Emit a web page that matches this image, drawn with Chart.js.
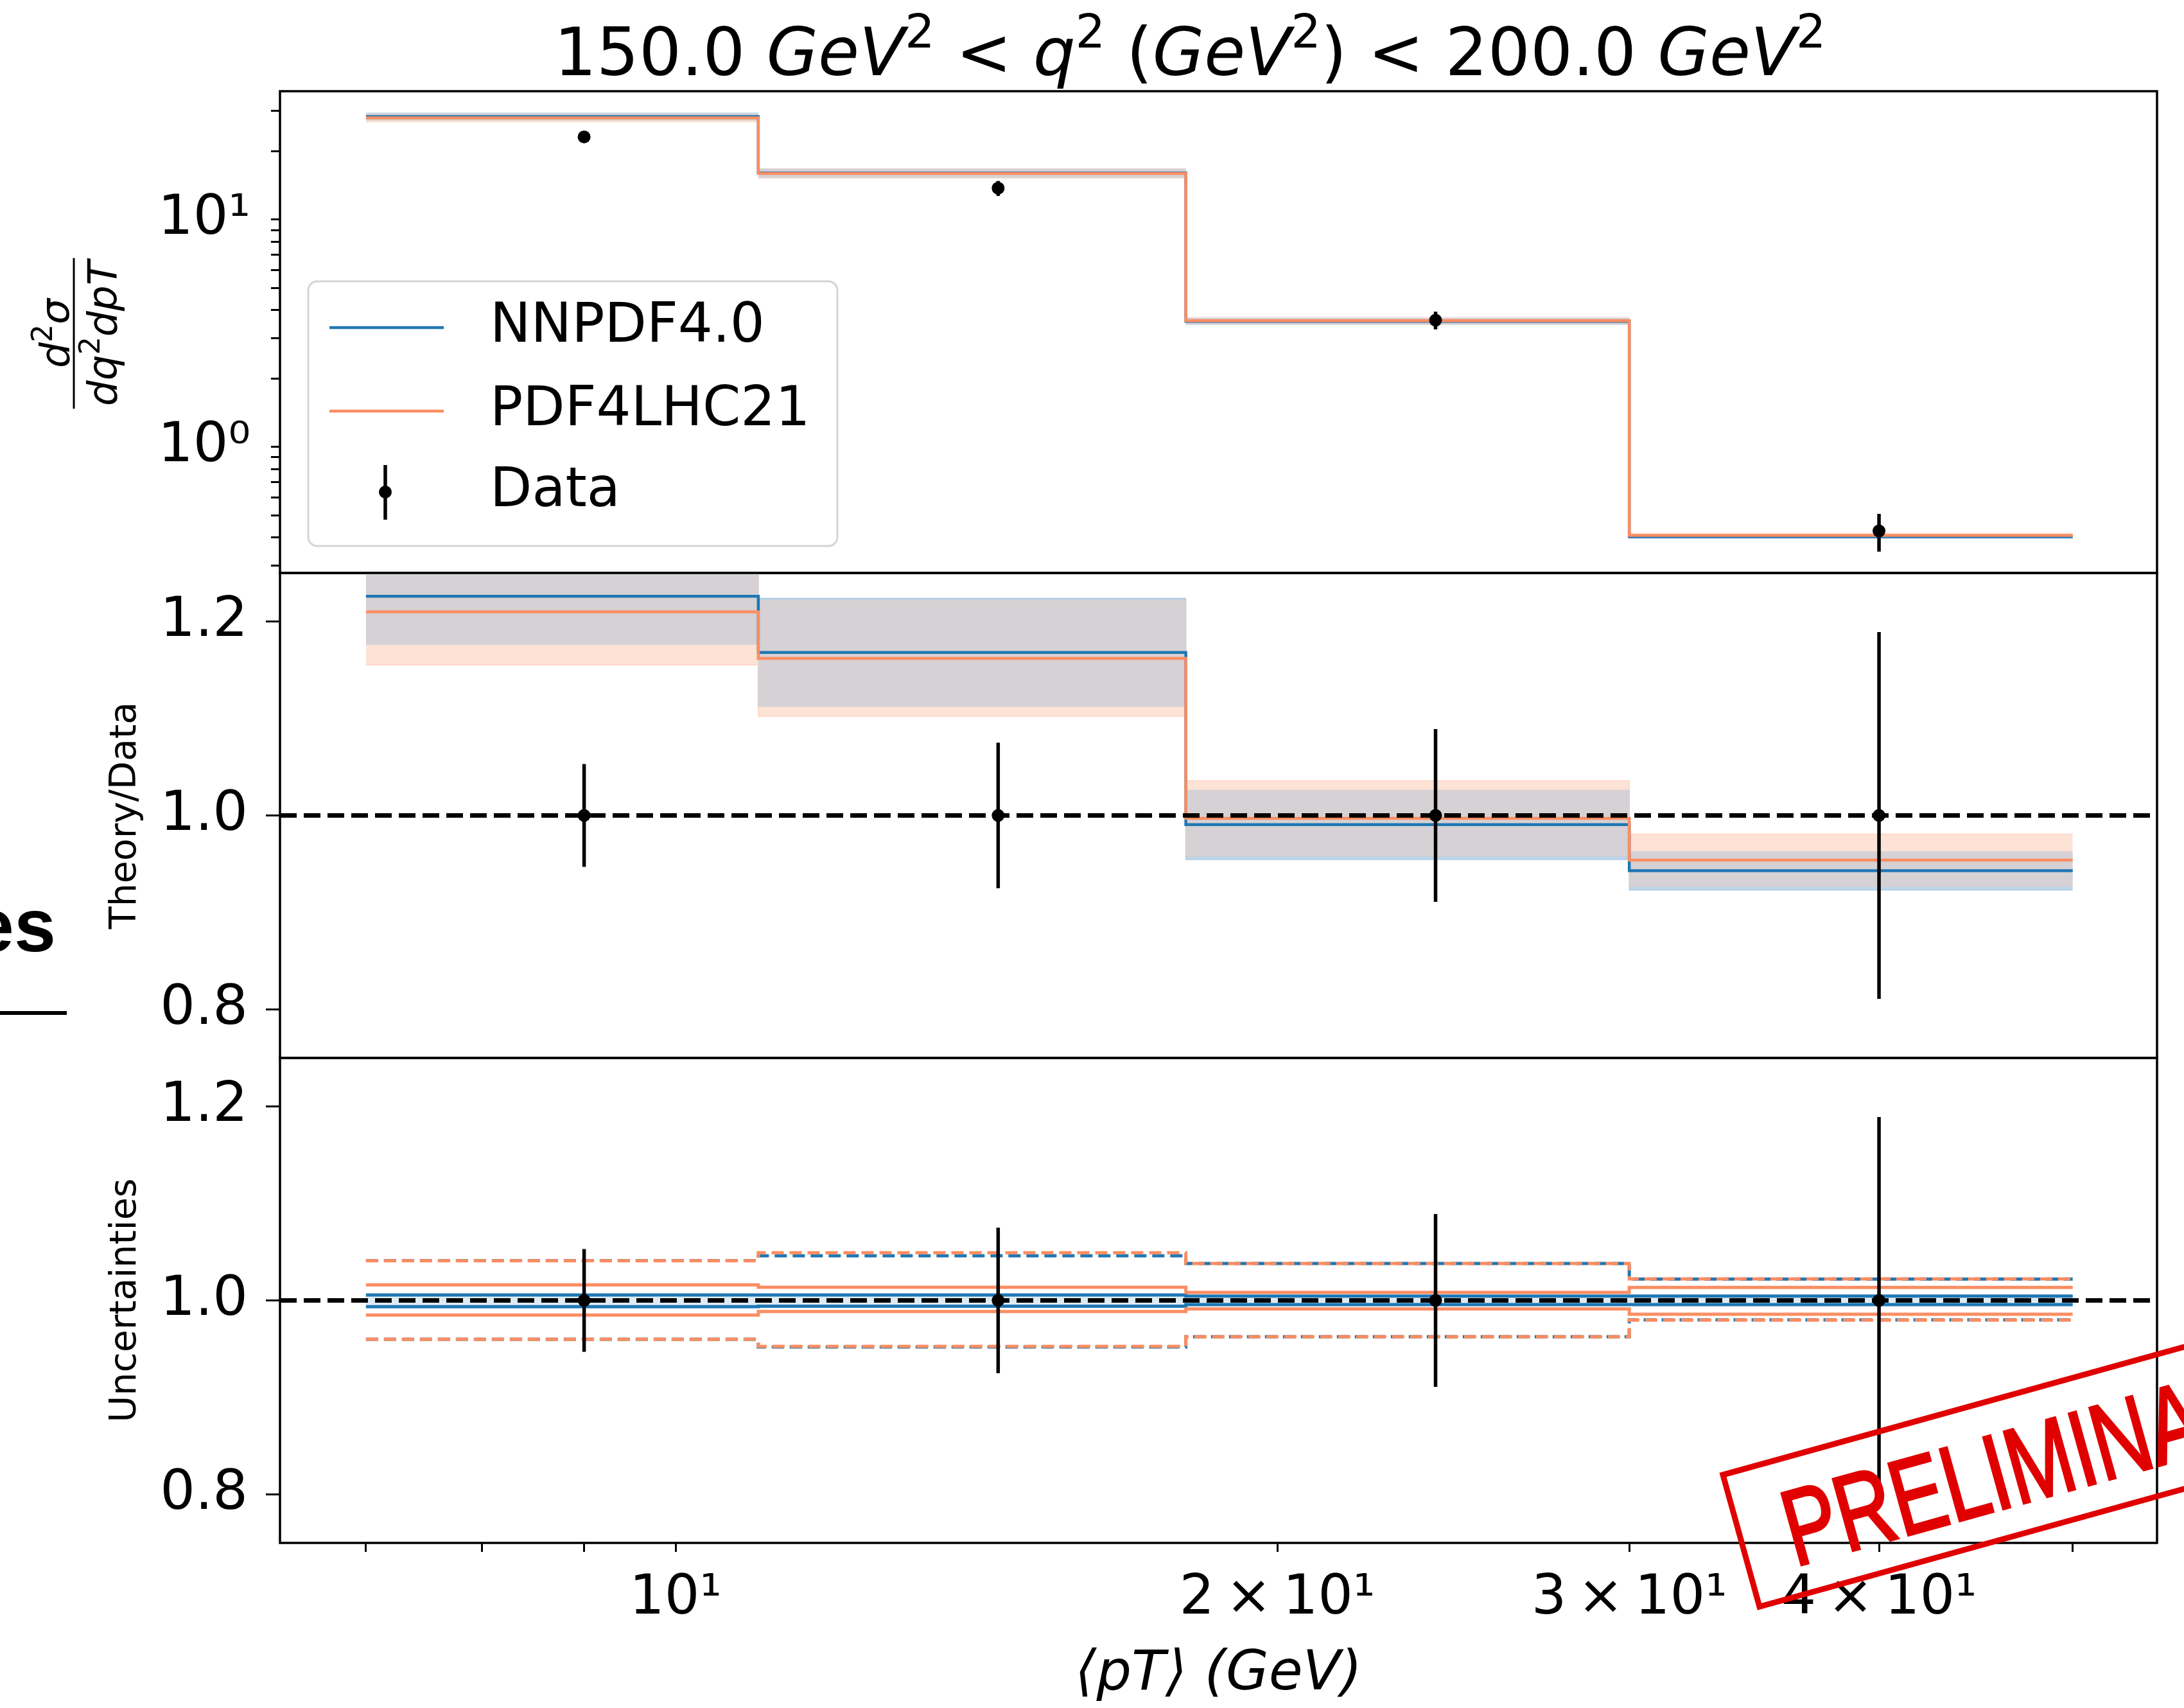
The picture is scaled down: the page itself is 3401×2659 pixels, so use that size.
<!DOCTYPE html>
<html>
<head>
<meta charset="utf-8">
<script src="https://cdn.jsdelivr.net/npm/chart.js@4.4.0/dist/chart.umd.min.js"></script>
<style>
  html, body { margin: 0; padding: 0; background: #fff; overflow: hidden; }
  #page { position: relative; width: 3401px; height: 2659px; overflow: hidden; background: #fff; }
  canvas { position: absolute; left: 0; }
  #frag { position: absolute; right: calc(3401px - 87px); top: 1382px; font: bold 117px 'Liberation Sans', Arial, sans-serif; line-height: 117px; white-space: nowrap; color: #000; }
  #fragLine { position: absolute; left: 0; top: 1574px; width: 104px; height: 6px; background: #000; }
</style>
</head>
<body>
<div id="page">
  <canvas id="cTop" width="3401" height="910" style="top:0;width:3401px;height:910px"></canvas>
  <canvas id="cRatio" width="3401" height="795" style="top:872px;width:3401px;height:795px"></canvas>
  <canvas id="cUnc" width="3401" height="1032" style="top:1627px;width:3401px;height:1032px"></canvas>
  <div id="frag">es</div>
  <div id="fragLine"></div>
</div>
<script>
// pT bins (GeV)
const binEdges = [7, 11, 18, 30, 50];
const ptCenters = [9, 14.5, 24, 40];
const xRange = [6.34, 55.1];
const xTicks = [7, 8, 9, 10, 20, 30, 40, 50];
const xTickLabels = ['', '', '', '10¹', '2\u2009×\u200910¹', '3\u2009×\u200910¹', '4\u2009×\u200910¹', ''];

// top panel: d2sigma/dq2dpT
const dataXsec = [23.1, 13.75, 3.61, 0.427];
const dataRelErr = [0.053, 0.075, 0.089, 0.189];
const nnpdfXsec = [28.4, 16.05, 3.57, 0.403];
const pdf4lhcXsec = [28.0, 15.95, 3.59, 0.408];
const yTopRange = [0.279, 36.7];
const yTopTicks = [0.3, 0.4, 0.5, 0.6, 0.7, 0.8, 0.9, 1, 2, 3, 4, 5, 6, 7, 8, 9, 10, 20, 30];
const yTopTickLabels = yTopTicks.map(v => v === 1 ? '10⁰' : v === 10 ? '10¹' : '');

// middle panel: theory / data
const nnpdfRatio = [1.226, 1.168, 0.9905, 0.943];
const nnpdfRatioErr = [0.050, 0.056, 0.036, 0.020];
const pdf4lhcRatio = [1.210, 1.162, 0.997, 0.954];
const pdf4lhcRatioErr = [0.055, 0.060, 0.039, 0.027];

// bottom panel: uncertainties (solid = PDF, dashed = scale)
const nnpdfPdfUp = [1.0056, 1.0056, 1.0045, 1.0045];
const nnpdfPdfDn = [0.9935, 0.9940, 0.9957, 0.9957];
const pdf4lhcPdfUp = [1.016, 1.0135, 1.0083, 1.0134];
const pdf4lhcPdfDn = [0.985, 0.9886, 0.9913, 0.9858];
const nnpdfScaleUp = [1.041, 1.046, 1.038, 1.022];
const nnpdfScaleDn = [0.960, 0.952, 0.9626, 0.980];
const pdf4lhcScaleUp = [1.0409, 1.0491, 1.038, 1.0222];
const pdf4lhcScaleDn = [0.960, 0.9527, 0.9626, 0.9798];

const ratioRange = [0.75, 1.25];
const ratioTicks = [0.8, 1.0, 1.2];
const ratioTickLabels = ['0.8', '1.0', '1.2'];

const BLUE = '#1f77b4';
const ORANGE = '#fc8d62';
const BLUE_BAND = 'rgb(190,216,235)';
const ORANGE_BAND = 'rgb(253,226,214)';
const GREY_BAND = 'rgb(214,209,212)';
const FONT = "'DejaVu Sans', sans-serif";

Chart.defaults.font.family = FONT;
Chart.defaults.color = '#000';

// helpers
const step = vals => binEdges.map((x, i) => ({ x, y: vals[Math.min(i, vals.length - 1)] }));
const errBars = (lo, hi) => ptCenters.flatMap((x, i) => [{ x, y: lo[i] }, { x, y: hi[i] }, { x, y: null }]);
const ones = ptCenters.map(() => 1);

function lineDs(vals, color, width, extra) {
  return Object.assign({ data: step(vals), borderColor: color, borderWidth: width, pointRadius: 0,
    fill: false, stepped: 'before', tension: 0 }, extra || {});
}
function bandDs(up, dn, color, edge) {
  return [
    { data: step(up), borderColor: edge || 'rgba(0,0,0,0)', borderWidth: 2, pointRadius: 0,
      stepped: 'before', fill: '+1', backgroundColor: color, clip: 0 },
    { data: step(dn), borderColor: edge || 'rgba(0,0,0,0)', borderWidth: 2, pointRadius: 0,
      stepped: 'before', fill: false, clip: 0 }
  ];
}
function errDs(lo, hi) {
  return { data: errBars(lo, hi), borderColor: '#000', borderWidth: 5.5, pointRadius: 0, spanGaps: false, tension: 0 };
}
function dotDs(vals) {
  return { data: ptCenters.map((x, i) => ({ x, y: vals[i] })), showLine: false, pointRadius: 10,
    pointBackgroundColor: '#000', pointBorderWidth: 0, borderColor: '#000' };
}
function unityDs() {
  return { data: [{ x: xRange[0], y: 1 }, { x: xRange[1], y: 1 }], borderColor: '#000', borderWidth: 7,
    borderDash: [26, 11], pointRadius: 0, tension: 0 };
}
// first in list is drawn first (underneath)
function ordered(list) {
  return list.map((d, i) => Object.assign(d, { order: list.length - i }));
}

function xScale(show) {
  return {
    type: 'logarithmic', min: xRange[0], max: xRange[1], display: show,
    afterBuildTicks: s => { s.ticks = xTicks.map(v => ({ value: v })); },
    afterFit: s => { s.height = show ? 257 : 0; s.paddingLeft = 0; s.paddingRight = 0; },
    ticks: { autoSkip: false, maxRotation: 0, minRotation: 0, padding: 22, color: '#000',
      font: { size: 86 }, callback: (v, i) => xTickLabels[i] },
    grid: { drawOnChartArea: false, tickLength: 14, tickWidth: 3, tickColor: '#000' },
    border: { display: false },
    title: { display: show, text: '⟨pT⟩ (GeV)', color: '#000', font: { size: 86, style: 'italic' },
      padding: { top: 0, bottom: 0 } }
  };
}
function yScale(type, range, ticks, labels, tickLen, pad, title) {
  return {
    type, min: range[0], max: range[1],
    afterBuildTicks: s => { s.ticks = ticks.map(v => ({ value: v })); },
    afterFit: s => { s.width = 436; s.paddingTop = 0; s.paddingBottom = 0; },
    ticks: { autoSkip: false, padding: pad, color: '#000', font: { size: 86 }, callback: (v, i) => labels[i] },
    grid: { drawOnChartArea: false, tickLength: tickLen, tickWidth: 3, tickColor: '#000' },
    border: { display: false },
    title: title ? { display: true, text: title, color: '#000', font: { size: 57 }, padding: { top: 162, bottom: 0 } }
                 : { display: false }
  };
}
function options(y, showX, padding) {
  return {
    responsive: false, animation: false, devicePixelRatio: 1, events: [],
    layout: { padding },
    plugins: { legend: { display: false }, tooltip: { enabled: false }, title: { display: false } },
    scales: { x: xScale(showX), y }
  };
}

const framePlugin = {
  id: 'frame',
  afterDatasetsDraw(chart) {
    const { ctx, chartArea: a } = chart;
    ctx.save();
    ctx.strokeStyle = '#000';
    ctx.lineWidth = 3.5;
    ctx.strokeRect(a.left, a.top, a.right - a.left, a.bottom - a.top);
    ctx.restore();
  }
};

// text with italic / superscript pieces
function drawParts(ctx, parts, x, y, size, align) {
  const fontOf = p => (p.it ? 'italic ' : '') + (p.sup ? size * 0.7 : size) + 'px ' + FONT;
  let w = 0;
  parts.forEach(p => { ctx.font = fontOf(p); w += ctx.measureText(p.t).width; });
  let cx = align === 'center' ? x - w / 2 : x;
  ctx.textBaseline = 'alphabetic';
  ctx.textAlign = 'left';
  parts.forEach(p => {
    ctx.font = fontOf(p);
    ctx.fillText(p.t, cx, p.sup ? y - size * 0.41 : y);
    cx += ctx.measureText(p.t).width;
  });
  return w;
}
function partsWidth(ctx, parts, size) {
  let w = 0;
  parts.forEach(p => { ctx.font = (p.it ? 'italic ' : '') + (p.sup ? size * 0.7 : size) + 'px ' + FONT; w += ctx.measureText(p.t).width; });
  return w;
}

const topDecor = {
  id: 'topDecor',
  afterDraw(chart) {
    const ctx = chart.ctx;
    ctx.save();
    ctx.fillStyle = '#000';
    // title
    drawParts(ctx, [
      { t: '150.0 ' }, { t: 'GeV', it: 1 }, { t: '2', sup: 1 }, { t: ' < ' }, { t: 'q', it: 1 }, { t: '2', sup: 1 },
      { t: ' (' }, { t: 'GeV', it: 1 }, { t: '2', sup: 1 }, { t: ') < 200.0 ' }, { t: 'GeV', it: 1 }, { t: '2', sup: 1 }
    ], 1853, 117, 104, 'center');

    // y label as a fraction, rotated
    const fs = 63;
    const num = [{ t: 'd', it: 1 }, { t: '2', sup: 1 }, { t: 'σ', it: 1 }];
    const den = [{ t: 'dq', it: 1 }, { t: '2', sup: 1 }, { t: 'dpT', it: 1 }];
    ctx.translate(115, 519);
    ctx.rotate(-Math.PI / 2);
    const wn = partsWidth(ctx, num, fs), wd = partsWidth(ctx, den, fs);
    const wb = Math.max(wn, wd) + 8;
    drawParts(ctx, num, 0, -8, fs, 'center');
    drawParts(ctx, den, 0, 66, fs, 'center');
    ctx.fillRect(-wb / 2, -1.5, wb, 3);
    ctx.restore();

    // legend
    ctx.save();
    ctx.beginPath();
    ctx.roundRect(480, 438, 824, 412, 14);
    ctx.fillStyle = 'rgba(255,255,255,0.8)';
    ctx.fill();
    ctx.strokeStyle = '#d4d4d4';
    ctx.lineWidth = 3;
    ctx.stroke();
    ctx.lineWidth = 4.5;
    ctx.strokeStyle = BLUE;
    ctx.beginPath(); ctx.moveTo(513, 510); ctx.lineTo(691, 510); ctx.stroke();
    ctx.strokeStyle = ORANGE;
    ctx.beginPath(); ctx.moveTo(513, 640); ctx.lineTo(691, 640); ctx.stroke();
    ctx.strokeStyle = '#000';
    ctx.lineWidth = 5.5;
    ctx.beginPath(); ctx.moveTo(600, 724); ctx.lineTo(600, 809); ctx.stroke();
    ctx.fillStyle = '#000';
    ctx.beginPath(); ctx.arc(600, 766, 10, 0, Math.PI * 2); ctx.fill();
    ctx.font = '85px ' + FONT;
    ctx.textBaseline = 'middle';
    ctx.textAlign = 'left';
    ctx.fillText('NNPDF4.0', 763, 510);
    ctx.fillText('PDF4LHC21', 763, 640);
    ctx.fillText('Data', 763, 766);
    ctx.restore();
  }
};

const stampPlugin = {
  id: 'stamp',
  afterDraw(chart) {
    const ctx = chart.ctx;
    ctx.save();
    ctx.translate(2683, 2296 - 1627);
    ctx.rotate(-15.5 * Math.PI / 180);
    ctx.strokeStyle = '#e00000';
    ctx.lineWidth = 9;
    ctx.strokeRect(0, 0, 900, 213);
    ctx.fillStyle = '#e00000';
    ctx.scale(0.74, 1);
    ctx.font = "168px 'Liberation Sans', Arial, sans-serif";
    ctx.textBaseline = 'alphabetic';
    ctx.textAlign = 'left';
    ctx.lineWidth = 4;
    ctx.fillText('PRELIMINARY', 70 / 0.74, 168);
    ctx.strokeText('PRELIMINARY', 70 / 0.74, 168);
    ctx.restore();
  }
};

// derived band edges
const mul = (a, f) => a.map((v, i) => v * f(i));
const nnTopUp = mul(nnpdfXsec, i => 1 + nnpdfRatioErr[i] / nnpdfRatio[i]);
const nnTopDn = mul(nnpdfXsec, i => 1 - nnpdfRatioErr[i] / nnpdfRatio[i]);
const pdTopUp = mul(pdf4lhcXsec, i => 1 + pdf4lhcRatioErr[i] / pdf4lhcRatio[i]);
const pdTopDn = mul(pdf4lhcXsec, i => 1 - pdf4lhcRatioErr[i] / pdf4lhcRatio[i]);
const nnRUp = nnpdfRatio.map((v, i) => v + nnpdfRatioErr[i]);
const nnRDn = nnpdfRatio.map((v, i) => v - nnpdfRatioErr[i]);
const pdRUp = pdf4lhcRatio.map((v, i) => v + pdf4lhcRatioErr[i]);
const pdRDn = pdf4lhcRatio.map((v, i) => v - pdf4lhcRatioErr[i]);
const minOf = (a, b) => a.map((v, i) => Math.min(v, b[i]));
const maxOf = (a, b) => a.map((v, i) => Math.max(v, b[i]));

// top panel
new Chart(document.getElementById('cTop'), {
  type: 'line',
  data: { datasets: ordered([
    ...bandDs(nnTopUp, nnTopDn, BLUE_BAND),
    ...bandDs(pdTopUp, pdTopDn, ORANGE_BAND),
    ...bandDs(minOf(nnTopUp, pdTopUp), maxOf(nnTopDn, pdTopDn), GREY_BAND),
    lineDs(nnpdfXsec, BLUE, 4.5),
    lineDs(pdf4lhcXsec, ORANGE, 4.5),
    errDs(mul(dataXsec, i => 1 - dataRelErr[i]), mul(dataXsec, i => 1 + dataRelErr[i])),
    dotDs(dataXsec)
  ]) },
  options: options(yScale('logarithmic', yTopRange, yTopTicks, yTopTickLabels, 14, 32, null), false,
    { top: 142, bottom: 18, left: 0, right: 42 }),
  plugins: [framePlugin, topDecor]
});

// theory / data panel
new Chart(document.getElementById('cRatio'), {
  type: 'line',
  data: { datasets: ordered([
    ...bandDs(nnRUp, nnRDn, BLUE_BAND, 'rgba(31,119,180,0.18)'),
    ...bandDs(pdRUp, pdRDn, ORANGE_BAND, 'rgba(252,141,98,0.18)'),
    ...bandDs(minOf(nnRUp, pdRUp), maxOf(nnRDn, pdRDn), GREY_BAND),
    lineDs(nnpdfRatio, BLUE, 4.5),
    lineDs(pdf4lhcRatio, ORANGE, 4.5),
    unityDs(),
    errDs(ones.map((v, i) => v - dataRelErr[i]), ones.map((v, i) => v + dataRelErr[i])),
    dotDs(ones)
  ]) },
  options: options(yScale('linear', ratioRange, ratioTicks, ratioTickLabels, 22, 28, 'Theory/Data'), false,
    { top: 20, bottom: 20, left: 0, right: 42 }),
  plugins: [framePlugin]
});

// uncertainties panel
new Chart(document.getElementById('cUnc'), {
  type: 'line',
  data: { datasets: ordered([
    ...bandDs(nnpdfPdfUp, nnpdfPdfDn, 'rgba(31,119,180,0.15)', BLUE).map(d => Object.assign(d, { borderWidth: 5 })),
    lineDs(pdf4lhcPdfUp, ORANGE, 5),
    lineDs(pdf4lhcPdfDn, ORANGE, 5),
    lineDs(nnpdfScaleUp, BLUE, 5, { borderDash: [19, 9] }),
    lineDs(nnpdfScaleDn, BLUE, 5, { borderDash: [19, 9] }),
    lineDs(pdf4lhcScaleUp, ORANGE, 5, { borderDash: [19, 9] }),
    lineDs(pdf4lhcScaleDn, ORANGE, 5, { borderDash: [19, 9] }),
    unityDs(),
    errDs(ones.map((v, i) => v - dataRelErr[i]), ones.map((v, i) => v + dataRelErr[i])),
    dotDs(ones)
  ]) },
  options: options(yScale('linear', ratioRange, ratioTicks, ratioTickLabels, 22, 28, 'Uncertainties'), true,
    { top: 20, bottom: 0, left: 0, right: 42 }),
  plugins: [framePlugin, stampPlugin]
});
</script>
</body>
</html>
